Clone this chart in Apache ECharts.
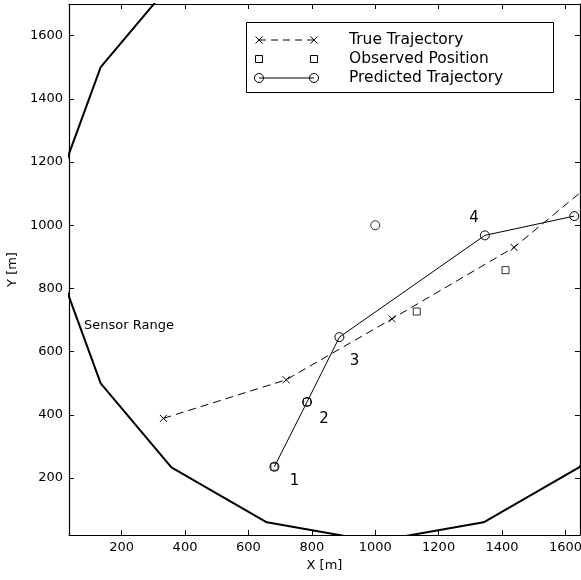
<!DOCTYPE html>
<html>
<head>
<meta charset="utf-8">
<script src="https://cdn.jsdelivr.net/npm/echarts@6/dist/echarts.min.js"></script>
<style>
  html, body { margin: 0; padding: 0; background: #fff; }
  #chart { width: 581px; height: 580px; }
</style>
</head>
<body>
<div id="chart"></div>
<script>
// Sensor coverage boundary: polygon vertices in metres (closed ring)
const sensorRange = [
  [1985, 1174], [1866, 1500], [1643, 1766], [1342, 1940], [1000, 2000],
  [658, 1940], [357, 1766], [134, 1500], [15, 1174], [15, 826],
  [134, 500], [357, 234], [658, 60], [1000, 0], [1342, 60],
  [1643, 234], [1866, 500], [1985, 826], [1985, 1174]
];
// Sensor location
const sensorPosition = [[1000, 1000]];
// Target tracks (X, Y in metres)
const trueTrajectory = [[332, 389], [719, 511], [1053, 704], [1438, 930], [1808, 1237]];
const observedPosition = [[682, 236], [785, 441], [1131, 727], [1411, 858]];
const predictedTrajectory = [[682, 236], [785, 441], [887, 646], [1346, 968], [1628, 1029]];
// Step numbers written next to the predicted points
const stepLabels = ['1', '2', '3', '4', ''];
const legendNames = ['True Trajectory', 'Observed Position', 'Predicted Trajectory'];
const xRange = [34, 1646];
const yRange = [20, 1700];
const tickStep = 200;

const FONT = 'DejaVu Sans';
const CROSS = 'path://M0,0L10,10M10,0L0,10';
const stepOffsets = [[20, 14], [17, 17], [15, 24], [-11, -17], [0, 0]];

const chart = echarts.init(document.getElementById('chart'), null, { renderer: 'canvas' });

function valueAxis(position, showLabels, range, name) {
  const ax = {
    type: 'value',
    position: position,
    min: range[0],
    max: range[1],
    splitNumber: 8,
    minInterval: tickStep,
    maxInterval: tickStep,
    axisLine: { show: true, onZero: false, lineStyle: { color: '#000', width: 1.2 } },
    axisTick: { show: true, inside: true, length: 5, lineStyle: { color: '#000', width: 1 } },
    axisLabel: {
      show: showLabels, color: '#000', fontFamily: FONT, fontSize: 13,
      showMinLabel: false, showMaxLabel: false,
      formatter: (v) => String(v)
    },
    splitLine: { show: false }
  };
  if (name) {
    ax.name = name;
    ax.nameLocation = 'middle';
    ax.nameTextStyle = { color: '#000', fontFamily: FONT, fontSize: 13 };
  }
  return ax;
}

const xBottom = valueAxis('bottom', true, xRange, 'X [m]');
xBottom.nameGap = 22;
xBottom.axisLabel.margin = 6;
const xTop = valueAxis('top', false, xRange);
const yLeft = valueAxis('left', true, yRange, 'Y [m]');
yLeft.nameGap = 40;
yLeft.axisLabel.margin = 6;
const yRight = valueAxis('right', false, yRange);

// Legend built from primitive shapes (marker at both ends of the sample line)
const LX1 = 259, LX2 = 314, rowY = [40, 59, 78], textX = 349;
function cross(cx, cy) {
  const h = 3.5;
  return [
    { type: 'line', z: 101, shape: { x1: cx - h, y1: cy - h, x2: cx + h, y2: cy + h }, style: { stroke: '#000', lineWidth: 1 } },
    { type: 'line', z: 101, shape: { x1: cx - h, y1: cy + h, x2: cx + h, y2: cy - h }, style: { stroke: '#000', lineWidth: 1 } }
  ];
}
function square(cx, cy) {
  return { type: 'rect', z: 101, shape: { x: cx - 3.5, y: cy - 3.5, width: 7, height: 7 }, style: { fill: 'none', stroke: '#000', lineWidth: 1 } };
}
function ring(cx, cy) {
  return { type: 'circle', z: 101, shape: { cx: cx, cy: cy, r: 4.5 }, style: { fill: 'none', stroke: '#000', lineWidth: 1 } };
}
const legendGraphics = [
  { type: 'rect', z: 100, shape: { x: 246.5, y: 22.5, width: 307, height: 70 }, style: { fill: '#fff', stroke: '#000', lineWidth: 1 } },
  { type: 'line', z: 101, shape: { x1: LX1, y1: rowY[0], x2: LX2, y2: rowY[0] }, style: { stroke: '#000', lineWidth: 1, lineDash: [7, 5] } },
  ...cross(LX1, rowY[0]), ...cross(LX2, rowY[0]),
  square(LX1, rowY[1]), square(LX2, rowY[1]),
  { type: 'line', z: 101, shape: { x1: LX1, y1: rowY[2], x2: LX2, y2: rowY[2] }, style: { stroke: '#000', lineWidth: 1 } },
  ring(LX1, rowY[2]), ring(LX2, rowY[2])
];
legendNames.forEach((n, i) => {
  legendGraphics.push({
    type: 'text', z: 101, x: textX, y: rowY[i],
    style: { text: n, fill: '#000', fontFamily: FONT, fontSize: 15.5, align: 'left', verticalAlign: 'middle' }
  });
});
legendGraphics.push({
  type: 'text', z: 50, x: 84, y: 326,
  style: { text: 'Sensor Range', fill: '#000', fontFamily: FONT, fontSize: 13, align: 'left', verticalAlign: 'middle' }
});

const hollow = { color: 'rgba(0,0,0,0)', borderColor: '#000', borderWidth: 1 };

const option = {
  backgroundColor: '#fff',
  animation: false,
  grid: { left: 69, right: 1, top: 4, bottom: 45, containLabel: false, outerBoundsMode: 'none' },
  xAxis: [xBottom, xTop],
  yAxis: [yLeft, yRight],
  series: [
    {
      name: 'Sensor Range', type: 'line', data: sensorRange, clip: true,
      showSymbol: false, symbol: 'none', silent: true,
      lineStyle: { color: '#000', width: 2 }
    },
    {
      name: legendNames[0], type: 'line', data: trueTrajectory, clip: true,
      symbol: CROSS, symbolSize: 7, showAllSymbol: true,
      itemStyle: hollow,
      lineStyle: { color: '#000', width: 1, type: [8, 5] }
    },
    {
      name: legendNames[1], type: 'scatter', data: observedPosition, clip: true,
      symbol: 'rect', symbolSize: 7, itemStyle: hollow
    },
    {
      name: legendNames[2], type: 'line', clip: true,
      data: predictedTrajectory.map((p, i) => ({
        value: p,
        label: {
          show: stepLabels[i] !== '', formatter: stepLabels[i],
          position: 'inside', offset: stepOffsets[i],
          color: '#000', fontFamily: FONT, fontSize: 15
        }
      })),
      symbol: 'circle', symbolSize: 9, showAllSymbol: true,
      itemStyle: hollow,
      lineStyle: { color: '#000', width: 1 }
    },
    {
      name: 'Sensor', type: 'scatter', data: sensorPosition, clip: true,
      symbol: 'circle', symbolSize: 9, itemStyle: hollow
    }
  ],
  graphic: legendGraphics
};

chart.setOption(option);
</script>
</body>
</html>
